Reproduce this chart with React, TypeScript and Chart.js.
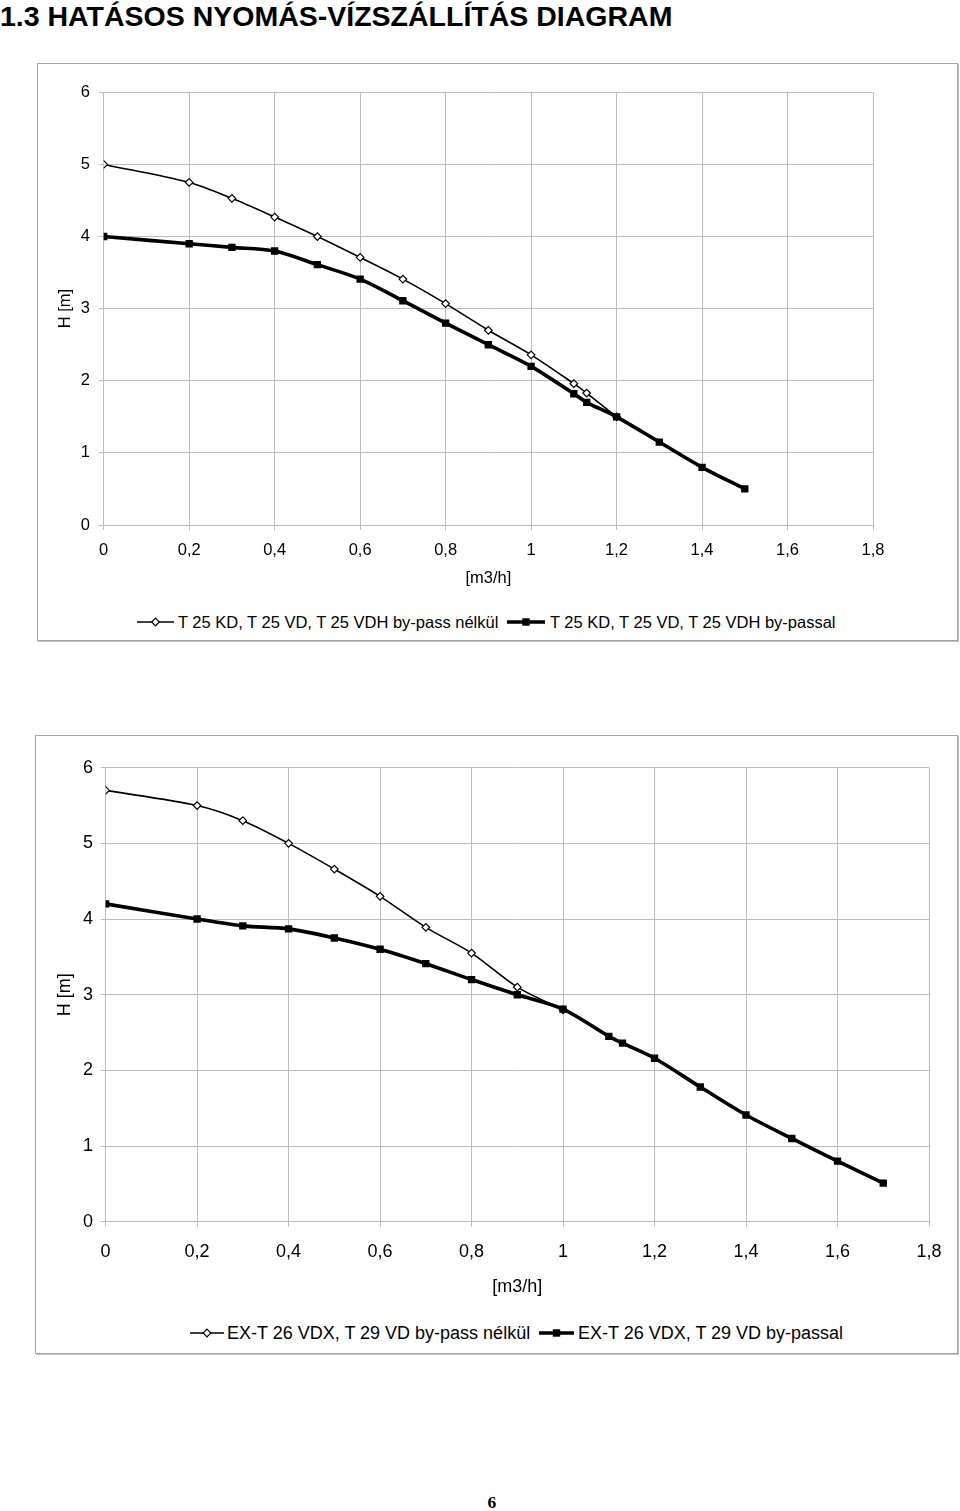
import React, { useEffect, useRef } from 'react';
import { Chart, registerables } from 'chart.js';

Chart.register(...registerables);

const TITLE = '1.3 HATÁSOS NYOMÁS-VÍZSZÁLLÍTÁS DIAGRAM';
const PAGE_NUMBER = '6';
const X_TITLE = '[m3/h]';
const Y_TITLE = 'H [m]';

// Top chart data
const topFlowA = [0, 0.2, 0.3, 0.4, 0.5, 0.6, 0.7, 0.8, 0.9, 1.0, 1.1, 1.13, 1.2];
const topHeadA = [5.0, 4.75, 4.53, 4.27, 4.0, 3.71, 3.41, 3.07, 2.7, 2.36, 1.96, 1.83, 1.5];
const topFlowB = [0, 0.2, 0.3, 0.4, 0.5, 0.6, 0.7, 0.8, 0.9, 1.0, 1.1, 1.13, 1.2, 1.3, 1.4, 1.5];
const topHeadB = [4.0, 3.9, 3.85, 3.8, 3.61, 3.41, 3.11, 2.8, 2.5, 2.2, 1.82, 1.7, 1.5, 1.15, 0.8, 0.5];
const topLabelA = 'T 25 KD, T 25 VD, T 25 VDH by-pass nélkül';
const topLabelB = 'T 25 KD, T 25 VD, T 25 VDH by-passal';

// Bottom chart data
const bottomFlowA = [0, 0.2, 0.3, 0.4, 0.5, 0.6, 0.7, 0.8, 0.9, 1.0];
const bottomHeadA = [5.7, 5.5, 5.3, 5.0, 4.66, 4.3, 3.89, 3.55, 3.1, 2.8];
const bottomFlowB = [0, 0.2, 0.3, 0.4, 0.5, 0.6, 0.7, 0.8, 0.9, 1.0, 1.1, 1.13, 1.2, 1.3, 1.4, 1.5, 1.6, 1.7];
const bottomHeadB = [4.2, 4.0, 3.91, 3.87, 3.75, 3.6, 3.41, 3.2, 3.0, 2.81, 2.45, 2.36, 2.16, 1.78, 1.41, 1.1, 0.8, 0.51];
const bottomLabelA = 'EX-T 26 VDX, T 29 VD by-pass nélkül';
const bottomLabelB = 'EX-T 26 VDX, T 29 VD by-passal';

// Axis ranges
const X_MIN = 0;
const X_MAX = 1.8;
const X_STEP = 0.2;
const Y_MIN = 0;
const Y_MAX = 6;
const Y_STEP = 1;

const FONT = '"Liberation Sans", Arial, sans-serif';
const GRID = '#bcbcbc';

const toPoints = (xs: number[], ys: number[]) => xs.map((x, i) => ({ x, y: ys[i] }));
const fmt = (v: number | string) => String(Math.round(Number(v) * 10) / 10).replace('.', ',');

type Geo = {
  width: number;
  height: number;
  areaLeft: number;
  areaRight: number;
  areaTop: number;
  areaBottom: number;
  xScaleH: number;
  font: number;
  xTickPad: number;
  yTickPad: number;
  yTitlePad: number;
};

function PumpChart(props: {
  geo: Geo;
  flowA: number[];
  headA: number[];
  flowB: number[];
  headB: number[];
  labelA: string;
  labelB: string;
  style: React.CSSProperties;
}) {
  const ref = useRef<HTMLCanvasElement | null>(null);
  const { geo } = props;
  useEffect(() => {
    if (!ref.current) return;
    const chart = new Chart(ref.current, {
      type: 'line',
      data: {
        datasets: [
          {
            label: props.labelA,
            data: toPoints(props.flowA, props.headA),
            borderColor: '#000',
            borderWidth: 1.6,
            backgroundColor: '#fff',
            pointStyle: 'rectRot',
            pointRadius: 3.8,
            pointBorderWidth: 1.2,
            pointBorderColor: '#000',
            pointBackgroundColor: '#fff',
            tension: 0.3,
            order: 1,
          },
          {
            label: props.labelB,
            data: toPoints(props.flowB, props.headB),
            borderColor: '#000',
            borderWidth: 3.6,
            backgroundColor: '#000',
            pointStyle: 'rect',
            pointRadius: 5.2,
            pointBorderWidth: 0,
            pointBackgroundColor: '#000',
            tension: 0.3,
            order: 0,
          },
        ],
      },
      options: {
        responsive: false,
        animation: false,
        events: [],
        layout: {
          padding: {
            left: 0,
            top: geo.areaTop,
            right: geo.width - geo.areaRight,
            bottom: geo.height - geo.areaBottom - geo.xScaleH,
          },
        },
        plugins: { legend: { display: false }, tooltip: { enabled: false }, title: { display: false } },
        scales: {
          x: {
            type: 'linear',
            min: X_MIN,
            max: X_MAX,
            afterFit: (s: any) => {
              s.height = geo.xScaleH;
            },
            afterBuildTicks: (s: any) => {
              const t = [];
              for (let i = 0; i <= Math.round((X_MAX - X_MIN) / X_STEP); i++) t.push({ value: X_MIN + i * X_STEP });
              s.ticks = t;
            },
            ticks: {
              stepSize: X_STEP,
              color: '#000',
              font: { family: FONT, size: geo.font },
              padding: geo.xTickPad,
              maxRotation: 0,
              autoSkip: false,
              callback: (v: any) => fmt(v),
            },
            grid: { color: GRID, lineWidth: 1, tickLength: 5, tickColor: GRID, drawTicks: true },
            border: { display: true, color: GRID, width: 1 },
            title: {
              display: true,
              text: X_TITLE,
              color: '#000',
              font: { family: FONT, size: geo.font },
              padding: { top: 0, bottom: 0 },
            },
          },
          y: {
            type: 'linear',
            min: Y_MIN,
            max: Y_MAX,
            afterFit: (s: any) => {
              s.width = geo.areaLeft;
            },
            ticks: {
              stepSize: Y_STEP,
              color: '#000',
              font: { family: FONT, size: geo.font },
              padding: geo.yTickPad,
              callback: (v: any) => fmt(v),
            },
            grid: { color: GRID, lineWidth: 1, tickLength: 5, tickColor: GRID, drawTicks: true },
            border: { display: true, color: GRID, width: 1 },
            title: {
              display: true,
              text: Y_TITLE,
              color: '#000',
              font: { family: FONT, size: geo.font },
              padding: { top: geo.yTitlePad, bottom: 0 },
            },
          },
        },
      },
    } as any);
    return () => chart.destroy();
  }, []);
  return (
    <canvas
      ref={ref}
      width={geo.width}
      height={geo.height}
      style={{ position: 'absolute', width: geo.width, height: geo.height, ...props.style }}
    />
  );
}

function Symbol(props: { kind: 'a' | 'b'; width: number; left: number; top: number }) {
  const w = props.width;
  const h = 12;
  const c = w / 2;
  return (
    <svg
      width={w}
      height={h}
      style={{ position: 'absolute', left: props.left, top: props.top - h / 2 }}
    >
      {props.kind === 'a' ? (
        <>
          <line x1={0} y1={6} x2={w} y2={6} stroke="#000" strokeWidth={1.6} />
          <polygon
            points={`${c},2.2 ${c + 3.8},6 ${c},9.8 ${c - 3.8},6`}
            fill="#fff"
            stroke="#000"
            strokeWidth={1.2}
          />
        </>
      ) : (
        <>
          <line x1={0} y1={6} x2={w} y2={6} stroke="#000" strokeWidth={3.6} />
          <rect x={c - 3.7} y={2.3} width={7.4} height={7.4} fill="#000" />
        </>
      )}
    </svg>
  );
}

function Label(props: { text: string; left: number; center: number; size: number }) {
  return (
    <div
      style={{
        position: 'absolute',
        left: props.left,
        top: props.center - props.size / 2,
        fontFamily: FONT,
        fontSize: props.size,
        lineHeight: `${props.size}px`,
        whiteSpace: 'nowrap',
        color: '#000',
      }}
    >
      {props.text}
    </div>
  );
}

const topGeo: Geo = {
  width: 921,
  height: 540,
  areaLeft: 66.7,
  areaRight: 836,
  areaTop: 29.3,
  areaBottom: 462,
  xScaleH: 62.9,
  font: 16.5,
  xTickPad: 10.1,
  yTickPad: 8.7,
  yTitlePad: 18.1,
};

const bottomGeo: Geo = {
  width: 923,
  height: 580,
  areaLeft: 70.6,
  areaRight: 894,
  areaTop: 32.7,
  areaBottom: 486.7,
  xScaleH: 76.1,
  font: 18,
  xTickPad: 14.2,
  yTickPad: 7.6,
  yTitlePad: 19.2,
};

const boxStyle = (left: number, top: number, w: number, h: number): React.CSSProperties => ({
  position: 'absolute',
  left,
  top,
  width: w,
  height: h,
  boxSizing: 'border-box',
  border: '1px solid #a4a4a4',
  boxShadow: '1px 1px 0 #c4c4c4',
  background: '#fff',
});

export default function App() {
  return (
    <div style={{ position: 'absolute', left: 0, top: 0, width: 960, height: 1511, overflow: 'hidden' }}>
      <div
        style={{
          position: 'absolute',
          left: 0,
          top: 2,
          fontFamily: FONT,
          fontWeight: 'bold',
          fontSize: 28.5,
          lineHeight: '28.5px',
          whiteSpace: 'nowrap',
          color: '#000',
        }}
      >
        {TITLE}
      </div>

      <div style={boxStyle(37, 63, 921, 578)} />
      <PumpChart
        geo={topGeo}
        flowA={topFlowA}
        headA={topHeadA}
        flowB={topFlowB}
        headB={topHeadB}
        labelA={topLabelA}
        labelB={topLabelB}
        style={{ left: 37, top: 63 }}
      />
      <Symbol kind="a" width={37} left={137} top={622} />
      <Label text={topLabelA} left={178} center={622} size={16.5} />
      <Symbol kind="b" width={38} left={507} top={622} />
      <Label text={topLabelB} left={550} center={622} size={16.5} />

      <div style={boxStyle(35, 735, 923, 619)} />
      <PumpChart
        geo={bottomGeo}
        flowA={bottomFlowA}
        headA={bottomHeadA}
        flowB={bottomFlowB}
        headB={bottomHeadB}
        labelA={bottomLabelA}
        labelB={bottomLabelB}
        style={{ left: 35, top: 735 }}
      />
      <Symbol kind="a" width={34} left={190} top={1333} />
      <Label text={bottomLabelA} left={227} center={1333} size={18} />
      <Symbol kind="b" width={35} left={539} top={1333} />
      <Label text={bottomLabelB} left={578} center={1333} size={18} />

      <div
        style={{
          position: 'absolute',
          left: 487.5,
          top: 1494,
          fontFamily: '"Liberation Serif", "Times New Roman", serif',
          fontWeight: 'bold',
          fontSize: 17.5,
          lineHeight: '17.5px',
          color: '#000',
        }}
      >
        {PAGE_NUMBER}
      </div>
    </div>
  );
}
